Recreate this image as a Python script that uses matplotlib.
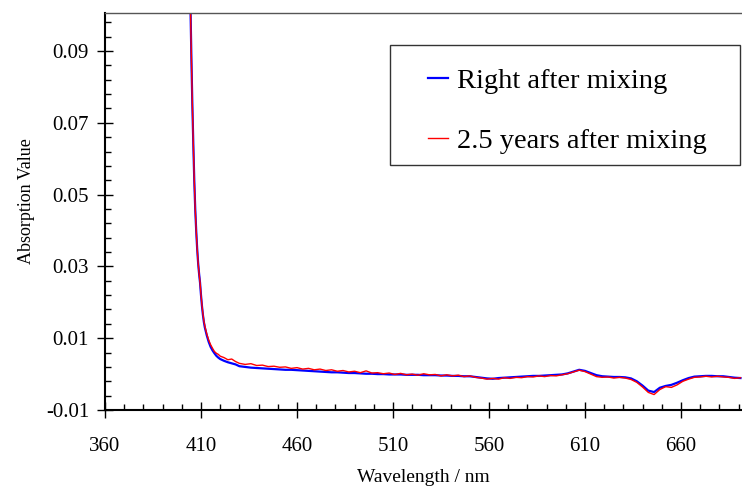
import matplotlib
matplotlib.use("Agg")
import matplotlib.pyplot as plt
import numpy as np
from matplotlib.patches import Rectangle

plt.rcParams["font.family"] = ["Liberation Serif", "DejaVu Serif"]

# steep absorption edge (nm) then the flat part on a 3 nm grid
wl_edge = [404.0, 404.5, 405.0, 405.5, 406.0, 406.5, 407.0, 407.5, 408.0, 408.5,
           409.0, 409.5, 410.0, 410.5, 411.0, 411.5, 412.0, 413, 414, 415,
           416, 417, 418, 419, 420, 422, 424, 426, 428]
wl_flat = list(range(430, 692, 3))
wavelength = wl_edge + wl_flat

fresh_edge = [0.118, 0.103, 0.088, 0.075, 0.064, 0.054, 0.046, 0.040, 0.035, 0.031,
              0.028, 0.0255, 0.022, 0.019, 0.0165, 0.0145, 0.013, 0.0108, 0.0090, 0.0076,
              0.0066, 0.0058, 0.0051, 0.0046, 0.0042, 0.0037, 0.0033, 0.0030, 0.0027]
fresh_flat = [0.0022, 0.0020, 0.0018, 0.0017, 0.0016, 0.0015, 0.0014, 0.0013, 0.0012, 0.0012,
              0.0011, 0.0010, 0.0009, 0.0008, 0.0007, 0.0006, 0.0005, 0.0005, 0.0004, 0.0003,
              0.0003, 0.0002, 0.0001, 0.0001, 0.0000, 0.0000, -0.0001, -0.0001, -0.0001, -0.0002,
              -0.0002, -0.0002, -0.0003, -0.0003, -0.0003, -0.0004, -0.0004, -0.0005, -0.0005, -0.0006,
              -0.0006, -0.0008, -0.0010, -0.0012, -0.0013, -0.0011, -0.0010, -0.0009, -0.0008, -0.0007,
              -0.0006, -0.0005, -0.0005, -0.0004, -0.0003, -0.0002, -0.0001, 0.0002, 0.0007, 0.0012,
              0.0009, 0.0003, -0.0003, -0.0006, -0.0007, -0.0008, -0.0008, -0.0009, -0.0012, -0.0020,
              -0.0032, -0.0046, -0.0050, -0.0038, -0.0033, -0.0030, -0.0024, -0.0017, -0.0011, -0.0007,
              -0.0006, -0.0005, -0.0005, -0.0006, -0.0006, -0.0008, -0.0010, -0.0011]
aged_edge = [0.118, 0.103, 0.088, 0.075, 0.064, 0.054, 0.046, 0.040, 0.035, 0.031,
             0.028, 0.0256, 0.0222, 0.0192, 0.0168, 0.0148, 0.0134, 0.0112, 0.0095, 0.0082,
             0.0072, 0.0063, 0.0058, 0.0055, 0.0050, 0.0046, 0.0040, 0.0042, 0.0035]
aged_flat = [0.0030, 0.0027, 0.0029, 0.0024, 0.0025, 0.0021, 0.0022, 0.0019, 0.0020, 0.0016,
             0.0018, 0.0014, 0.0016, 0.0012, 0.0014, 0.0010, 0.0012, 0.0008, 0.0010, 0.0006,
             0.0008, 0.0004, 0.0009, 0.0003, 0.0004, 0.0001, 0.0003, -0.0001, 0.0002, -0.0002,
             0.0000, -0.0003, 0.0001, -0.0002, -0.0001, -0.0005, -0.0002, -0.0005, -0.0003, -0.0007,
             -0.0005, -0.0009, -0.0011, -0.0014, -0.0012, -0.0014, -0.0010, -0.0012, -0.0009, -0.0010,
             -0.0007, -0.0008, -0.0005, -0.0007, -0.0004, -0.0005, -0.0002, 0.0001, 0.0006, 0.0011,
             0.0007, 0.0000, -0.0007, -0.0009, -0.0008, -0.0011, -0.0009, -0.0011, -0.0015, -0.0023,
             -0.0036, -0.0051, -0.0057, -0.0043, -0.0035, -0.0037, -0.0030, -0.0020, -0.0014, -0.0009,
             -0.0008, -0.0006, -0.0008, -0.0006, -0.0008, -0.0009, -0.0012, -0.0010]
fresh = fresh_edge + fresh_flat
aged = aged_edge + aged_flat

x_ticks = [360, 410, 460, 510, 560, 610, 660]
y_ticks = [-0.01, 0.01, 0.03, 0.05, 0.07, 0.09]
y_tick_labels = ["-0.01", "0.01", "0.03", "0.05", "0.07", "0.09"]

fig = plt.figure(figsize=(7.42, 4.86), dpi=100)
ax = fig.add_axes([105 / 742, 1 - 410 / 486, 1 - 105 / 742, 397 / 486])

ax.plot(wavelength, fresh, color="#0000ff", lw=1.6, label="Right after mixing")
ax.plot(wavelength, aged, color="#ff0000", lw=1.0, label="2.5 years after mixing")

ax.set_xlim(360, 691.8)
ax.set_ylim(-0.01, 0.1006)
ax.set_xticks(x_ticks)
ax.set_xticks(np.arange(360, 692, 10), minor=True)
ax.set_yticks(y_ticks)
ax.set_yticklabels(y_tick_labels)
ax.set_yticks(np.arange(-0.01, 0.1005, 0.004), minor=True)
ax.tick_params(which="major", direction="inout", length=11, width=1, labelsize=15)
ax.tick_params(axis="x", which="major", pad=14)
ax.tick_params(axis="y", which="major", pad=6)
ax.tick_params(which="minor", direction="in", length=4, width=1)

ax.spines["right"].set_visible(False)
ax.spines["top"].set_color("#555555")
ax.spines["top"].set_linewidth(1.0)
ax.spines["left"].set_linewidth(1.5)
ax.spines["bottom"].set_linewidth(1.5)

ax.set_xlabel("Wavelength / nm", fontsize=14, labelpad=9)
ax.set_ylabel("Absorption Value", fontsize=13)
ax.yaxis.set_label_coords(-0.110, 0.526)

# legend box drawn separately so the side padding can differ from the top
ax.add_patch(Rectangle((285 / 637, 245 / 397), 350 / 637, 120 / 397,
                       transform=ax.transAxes, fill=True, facecolor="white",
                       edgecolor="#333333", lw=1.0, zorder=4))
leg = ax.legend(loc="upper left", bbox_to_anchor=(323 / 637, 342 / 397), fontsize=20.5,
                frameon=False, borderpad=0, handlelength=0.7, handletextpad=0.32,
                labelspacing=1.19, borderaxespad=0)
leg.set_zorder(5)

fig.savefig("out.png", dpi=100)
